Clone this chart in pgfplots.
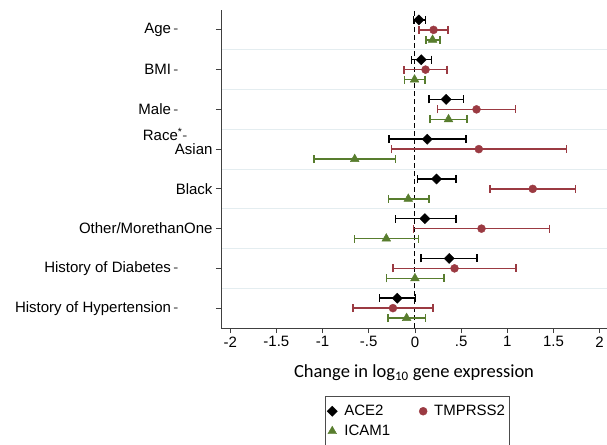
\documentclass[border=0pt]{standalone}
\usepackage{fontspec}
\setmainfont{Liberation Sans}
\newfontfamily\calibri{Carlito}
\usepackage{pgfplots}
\pgfplotsset{compat=1.18}
\usepackage{pgfplotstable}
\definecolor{tmpc}{RGB}{155,58,66}
\definecolor{icamc}{RGB}{88,125,46}
\definecolor{gridc}{RGB}{228,237,240}
\newcommand{\dsh}{\textcolor{black!70}{-}}

\pgfplotstableread{
y x lo hi
8.25 0.043 -0.018 0.115
7.25 0.068 -0.036 0.180
6.25 0.338 0.151 0.525
5.25 0.133 -0.281 0.554
4.25 0.234 0.029 0.446
3.25 0.108 -0.213 0.443
2.25 0.371 0.068 0.670
1.25 -0.191 -0.386 0.007
}\tabACE

\pgfplotstableread{
y x lo hi
8 0.202 0.043 0.360
7 0.115 -0.119 0.349
6 0.667 0.245 1.088
5 0.692 -0.256 1.643
4 1.276 0.811 1.741
3 0.721 -0.014 1.456
2 0.429 -0.238 1.095
1 -0.238 -0.670 0.198
}\tabTMP

\pgfplotstableread{
y x lo hi
7.75 0.191 0.119 0.270
6.75 -0.004 -0.115 0.108
5.75 0.364 0.162 0.562
4.75 -0.652 -1.095 -0.209
3.75 -0.072 -0.285 0.151
2.75 -0.310 -0.656 0.040
1.75 0.000 -0.310 0.313
0.75 -0.090 -0.292 0.115
}\tabICAM

\begin{document}
\begin{tikzpicture}
\begin{axis}[
  scale only axis, width=386pt, height=318pt,
  xmin=-2.1, xmax=2.08, ymin=0.5, ymax=8.5,
  axis x line*=bottom, axis y line*=left,
  axis line style={black!75, line width=0.8pt},
  tick align=outside, major tick length=5pt,
  tick style={black!75, line width=0.8pt},
  xtick={-2,-1.5,-1,-0.5,0,0.5,1,1.5,2},
  xticklabels={-2,-1.5,-1,-.5,0,.5,1,1.5,2},
  ytick={1,2,3,4,5,6,7,8},
  yticklabels={
    History of Hypertension\,\dsh\hspace*{34pt},
    History of Diabetes\,\dsh\hspace*{34pt},
    Other/MorethanOne,
    Black,
    Asian,
    Male\,\dsh\hspace*{34pt},
    BMI\,\dsh\hspace*{34pt},
    Age\,\dsh\hspace*{34pt}},
  minor ytick={1.5,2.5,3.5,4.5,5.5,6.5,7.5},
  yminorgrids, minor grid style={gridc, line width=0.8pt},
  minor tick length=0pt,
  extra y ticks={5.375},
  extra y tick labels={Race\textsuperscript{*}\dsh\hspace*{30pt}},
  extra y tick style={major tick length=0pt, grid=none},
  tick label style={font=\fontsize{15}{17}\selectfont},
  xlabel={Change in log\textsubscript{10} gene expression},
  xlabel style={font=\fontsize{18.5}{20}\selectfont\calibri, yshift=-11pt},
  legend columns=2,
  legend cell align=left,
  legend style={at={(0.508,-0.214)}, anchor=north, draw=black!70,
    font=\fontsize{15}{17}\selectfont,
    /tikz/every even column/.append style={column sep=27pt},
    row sep=4pt,
    inner xsep=2pt, inner ysep=7pt},
]
\addplot[black, dashed, line width=1pt, dash pattern=on 5pt off 3pt, forget plot]
  coordinates {(0,0.5) (0,8.5)};

\addplot[only marks, black, mark=square*, mark size=3.6pt,
  mark options={rotate=45, fill=black, draw=black},
  error bars/.cd, x dir=both, x explicit,
  error bar style={line width=1.5pt, black},
  error mark options={rotate=90, line width=1.5pt, mark size=4pt, black}]
  table[x=x, y=y, x error minus expr=\thisrow{x}-\thisrow{lo},
        x error plus expr=\thisrow{hi}-\thisrow{x}]{\tabACE};
\addlegendentry{\hspace*{5pt}ACE2}

\addplot[only marks, tmpc, mark=*, mark size=4pt,
  mark options={fill=tmpc, draw=tmpc},
  error bars/.cd, x dir=both, x explicit,
  error bar style={line width=1.5pt, tmpc},
  error mark options={rotate=90, line width=1.5pt, mark size=4pt, tmpc}]
  table[x=x, y=y, x error minus expr=\thisrow{x}-\thisrow{lo},
        x error plus expr=\thisrow{hi}-\thisrow{x}]{\tabTMP};
\addlegendentry{\hspace*{5pt}TMPRSS2}

\addplot[only marks, icamc, mark=triangle*, mark size=5pt,
  mark options={fill=icamc, draw=icamc},
  error bars/.cd, x dir=both, x explicit,
  error bar style={line width=1.5pt, icamc},
  error mark options={rotate=90, line width=1.5pt, mark size=4pt, icamc}]
  table[x=x, y=y, x error minus expr=\thisrow{x}-\thisrow{lo},
        x error plus expr=\thisrow{hi}-\thisrow{x}]{\tabICAM};
\addlegendentry{\hspace*{5pt}ICAM1}
\end{axis}
\pgfresetboundingbox
\path[use as bounding box] ([xshift=-221pt,yshift=-116pt]current axis.south west)
  rectangle ([xshift=386pt,yshift=328pt]current axis.south west);
\end{tikzpicture}
\end{document}
